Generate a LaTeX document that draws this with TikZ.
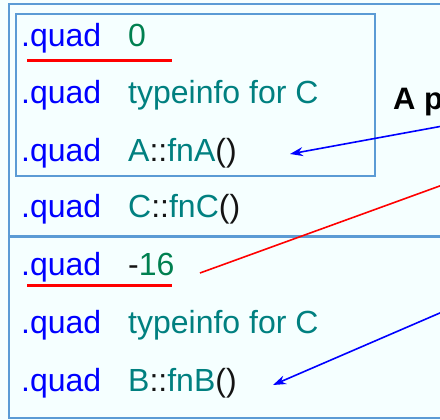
\documentclass[tikz,border=0pt]{standalone}
\usepackage{fontspec}
\setmainfont{Liberation Sans}
\usetikzlibrary{arrows.meta}
\definecolor{bg}{RGB}{245,255,255}
\definecolor{frame}{RGB}{91,155,213}
\definecolor{kw}{RGB}{0,0,255}
\definecolor{num}{RGB}{0,128,80}
\definecolor{sym}{RGB}{0,128,128}
\definecolor{punct}{RGB}{20,20,20}
\begin{document}
\begin{tikzpicture}[x=1pt,y=-1pt,
  cell/.style={anchor=base west,inner sep=0pt,font=\fontsize{32}{38}\selectfont},
  dir/.style={cell,text=kw},
  framebox/.style={draw=frame,line width=2pt},
  redrule/.style={draw=red,line width=3pt},
  pointer/.style={draw=kw,line width=1.6pt,-{Stealth[length=13pt,width=9pt]}},
  offsetline/.style={draw=red,line width=1.6pt}]
\useasboundingbox (0,0) rectangle (440,420);
\clip (0,0) rectangle (440,420);
\fill[bg] (0,0) rectangle (440,420);

% frames: whole table, upper group, and divider
\draw[framebox] (9,4) rectangle (470,418);
\draw[framebox] (16,14) rectangle (375,176);
\draw[draw=frame,line width=3pt] (9,237) -- (470,237);

% directive column
\node[dir] (d1) at (21,47)  {.quad};
\node[dir] (d2) at (21,104) {.quad};
\node[dir] (d3) at (21,161) {.quad};
\node[dir] (d4) at (21,218) {.quad};
\node[dir] (d5) at (21,276) {.quad};
\node[dir] (d6) at (21,334) {.quad};
\node[dir] (d7) at (21,391) {.quad};

% value column
\node[cell] (v1) at (128,47)  {\textcolor{num}{0}};
\node[cell] (v2) at (128,104) {\textcolor{sym}{typeinfo for C}};
\node[cell] (v3) at (128,161) {\textcolor{sym}{A}\textcolor{punct}{::}\textcolor{sym}{fnA}\textcolor{punct}{()}};
\node[cell] (v4) at (128,218) {\textcolor{sym}{C}\textcolor{punct}{::}\textcolor{sym}{fnC}\textcolor{punct}{()}};
\node[cell] (v5) at (128,276) {\textcolor{punct}{-}\textcolor{num}{16}};
\node[cell] (v6) at (128,334) {\textcolor{sym}{typeinfo for C}};
\node[cell] (v7) at (128,391) {\textcolor{sym}{B}\textcolor{punct}{::}\textcolor{sym}{fnB}\textcolor{punct}{()}};

% underlined offset entries
\draw[redrule] (27,61) -- (172,61);
\draw[redrule] (27,285) -- (172,285);

% annotation
\node[anchor=base west,inner sep=0pt,font=\fontsize{31}{37}\selectfont\bfseries] (note) at (393,110) {A p};

% connectors
\coordinate (tipA) at (290,154);
\coordinate (srcA) at (470,121);
\coordinate (tipB) at (273,385);
\coordinate (srcB) at (470,300);
\coordinate (offA) at (200,273);
\coordinate (offB) at (470,175);
\draw[pointer] (srcA) -- (tipA);
\draw[pointer] (srcB) -- (tipB);
\draw[offsetline] (offA) -- (offB);
\end{tikzpicture}
\end{document}
